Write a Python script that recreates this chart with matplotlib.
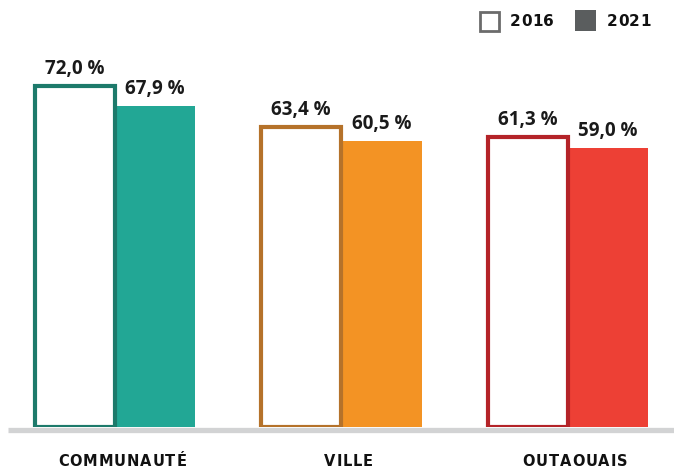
import matplotlib
matplotlib.use("Agg")
import matplotlib.pyplot as plt
from matplotlib.patches import Rectangle
from matplotlib.lines import Line2D
from matplotlib.font_manager import FontProperties

categories = ["COMMUNAUTÉ", "VILLE", "OUTAOUAIS"]
values_2016 = [72.0, 63.4, 61.3]
values_2021 = [67.9, 60.5, 59.0]
series_labels = ["2016", "2021"]
edge_colors = ["#1d7a6b", "#b5722a", "#b42328"]
fill_colors = ["#22a795", "#f39324", "#ed4035"]

W, H = 674, 468
fig = plt.figure(figsize=(W / 100, H / 100), dpi=100)
renderer = fig.canvas.get_renderer()

# axes: left at 8px, right at 674px; bottom at 427px, top at 0px
ax = fig.add_axes([8 / W, (H - 427) / H, (W - 8) / W, 427 / H])
px_per_unit = 226.5
center0 = 115
ax.set_xlim((8 - center0) / px_per_unit, (W - center0) / px_per_unit)
ax.set_ylim(0, 427 / 4.73)
ax.axis("off")

bw = 80.5 / px_per_unit
xs = list(range(len(categories)))

def fmt(v):
    return f"{v:.1f}".replace(".", ",") + " %"

def spaced_text(xc_px, y_px, s, size, tracking, color="#111111", align="center"):
    """Draw text char by char with letter spacing; coordinates in figure pixels (top-down y)."""
    fp = FontProperties(family="DejaVu Sans", weight="bold", size=size)
    widths = [renderer.get_text_width_height_descent(c, fp, ismath=False)[0] for c in s]
    total = sum(widths) + tracking * (len(s) - 1)
    x = xc_px - total / 2 if align == "center" else xc_px
    for c, w in zip(s, widths):
        fig.text(x / W, (H - y_px) / H, c, fontproperties=fp, color=color,
                 ha="left", va="baseline")
        x += w + tracking

for i, x in enumerate(xs):
    ax.bar(x + bw / 2, values_2021[i], width=bw, color=fill_colors[i],
           edgecolor="none", zorder=2)
    ax.bar(x - bw / 2, values_2016[i], width=bw, facecolor="white",
           edgecolor=edge_colors[i], linewidth=3.0, zorder=3,
           joinstyle="miter")
    for xx, v in ((x - bw / 2, values_2016[i]), (x + bw / 2, values_2021[i])):
        ax.annotate(fmt(v), (xx, v), xytext=(0, 8.8), textcoords="offset points",
                    ha="center", va="baseline", fontsize=13.5,
                    fontweight="bold", family=["Open Sans", "DejaVu Sans"],
                    color="#1a1a1a", zorder=5)

# baseline gray line
fig.add_artist(Line2D([8 / W, 1.0], [(H - 429.5) / H, (H - 429.5) / H],
                      transform=fig.transFigure, color="#d2d3d4",
                      linewidth=3.8, solid_capstyle="butt", zorder=10))

# category labels (centered under each group, slightly right)
for i, x in enumerate(xs):
    xc = center0 + x * px_per_unit + 7
    spaced_text(xc, 466, categories[i], 10.5, 0.9)

# legend
fig.add_artist(Rectangle((479.5 / W, (H - 30.5) / H), 19 / W, 19 / H,
                         transform=fig.transFigure, facecolor="white",
                         edgecolor="#6b6b6b", linewidth=2))
fig.add_artist(Rectangle((575 / W, (H - 31) / H), 21 / W, 21 / H,
                         transform=fig.transFigure, facecolor="#5a5d5e",
                         edgecolor="none"))
spaced_text(510, 26.5, series_labels[0], 11, 0.3, align="left")
spaced_text(607, 26.5, series_labels[1], 11, 0.3, align="left")

fig.savefig("out.png", dpi=100, facecolor="white")
